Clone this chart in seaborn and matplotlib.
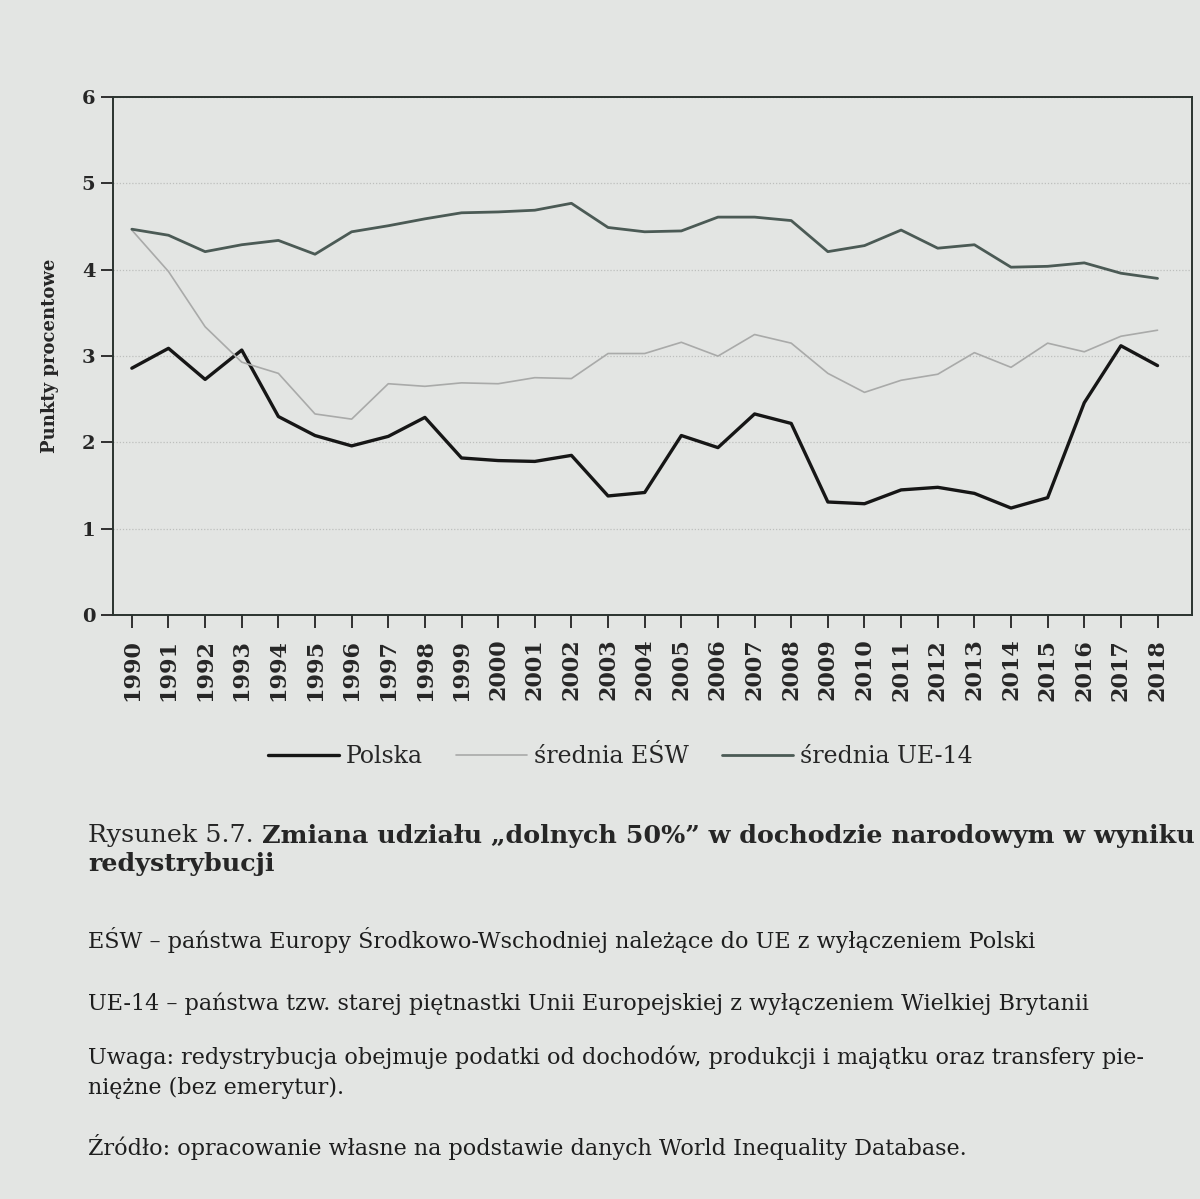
import matplotlib
matplotlib.use("Agg")
import matplotlib.pyplot as plt
import pandas as pd
import seaborn as sns

years = list(range(1990, 2019))

polska = [2.86, 3.09, 2.73, 3.07, 2.30, 2.08, 1.96, 2.07, 2.29, 1.82,
          1.79, 1.78, 1.85, 1.38, 1.42, 2.08, 1.94, 2.33, 2.22, 1.31,
          1.29, 1.45, 1.48, 1.41, 1.24, 1.36, 2.46, 3.12, 2.89]

esw = [4.46, 3.98, 3.34, 2.93, 2.80, 2.33, 2.27, 2.68, 2.65, 2.69,
       2.68, 2.75, 2.74, 3.03, 3.03, 3.16, 3.00, 3.25, 3.15, 2.80,
       2.58, 2.72, 2.79, 3.04, 2.87, 3.15, 3.05, 3.23, 3.30]

ue14 = [4.47, 4.40, 4.21, 4.29, 4.34, 4.18, 4.44, 4.51, 4.59, 4.66,
        4.67, 4.69, 4.77, 4.49, 4.44, 4.45, 4.61, 4.61, 4.57, 4.21,
        4.28, 4.46, 4.25, 4.29, 4.03, 4.04, 4.08, 3.96, 3.90]

series_names = ["Polska", "średnia EŚW", "średnia UE-14"]
y_ticks = [0, 1, 2, 3, 4, 5, 6]

df = pd.DataFrame({
    "rok": years * 3,
    "wartosc": polska + esw + ue14,
    "seria": [series_names[0]] * len(years)
             + [series_names[1]] * len(years)
             + [series_names[2]] * len(years),
})

paper = "#e3e5e3"
colors = {"Polska": "#161616", "średnia EŚW": "#a9aaa9", "średnia UE-14": "#4b5a55"}
widths = {"Polska": 2.4, "średnia EŚW": 1.2, "średnia UE-14": 2.0}

sns.set_style("ticks")
plt.rcParams["font.family"] = ["DejaVu Serif", "DejaVu Sans"]

fig = plt.figure(figsize=(12, 11.99), dpi=100, facecolor=paper)
ax = fig.add_axes([0.094, 0.487, 0.899, 0.432])
ax.set_facecolor(paper)

for name in series_names:
    sns.lineplot(data=df[df["seria"] == name], x="rok", y="wartosc",
                 color=colors[name], linewidth=widths[name], ax=ax,
                 label=name)

ax.set_xlim(1989.48, 2018.93)
ax.set_ylim(0, 6)
ax.set_yticks(y_ticks)
ax.set_yticklabels([str(t) for t in y_ticks], fontsize=14, fontweight="bold")
ax.set_xticks(years)
ax.set_xticklabels([str(y) for y in years], rotation=90, fontsize=16,
                   fontweight="bold")
ax.tick_params(axis="both", direction="out", length=9, width=1.3,
               color="#222222")
ax.tick_params(axis="x", pad=8)
ax.set_xlabel("")
ax.set_ylabel("Punkty procentowe", fontsize=13, fontweight="bold", labelpad=16)
for s in ax.spines.values():
    s.set_visible(True)
    s.set_linewidth(1.4)
    s.set_color("#2a332f")
ax.yaxis.grid(True, linestyle=(0, (1, 1.5)), color="#bdbfbd", linewidth=0.9)
ax.set_axisbelow(True)

ax.get_legend().remove()
handles, labels = ax.get_legend_handles_labels()
fig.legend(handles, labels, loc="center", bbox_to_anchor=(0.517, 0.369),
           ncol=3, frameon=False, fontsize=17, handlelength=3,
           columnspacing=1.4, handletextpad=0.3)

x0 = 88 / 1200
t1 = fig.text(x0, 0.303, "Rysunek 5.7. ", fontsize=18.3, va="center")
fig.canvas.draw()
bb = t1.get_window_extent(fig.canvas.get_renderer())
fig.text(bb.x1 / fig.bbox.width, 0.303,
         "Zmiana udziału „dolnych 50%” w dochodzie narodowym w wyniku",
         fontsize=18.3, fontweight="bold", va="center")
fig.text(x0, 0.279, "redystrybucji", fontsize=18.3, fontweight="bold", va="center")

notes = [
    (0.216, "EŚW – państwa Europy Środkowo-Wschodniej należące do UE z wyłączeniem Polski"),
    (0.163, "UE-14 – państwa tzw. starej piętnastki Unii Europejskiej z wyłączeniem Wielkiej Brytanii"),
    (0.118, "Uwaga: redystrybucja obejmuje podatki od dochodów, produkcji i majątku oraz transfery pie-"),
    (0.093, "niężne (bez emerytur)."),
    (0.043, "Źródło: opracowanie własne na podstawie danych World Inequality Database."),
]
for y, txt in notes:
    fig.text(x0, y, txt, fontsize=16, va="center", color="#1e1e1e")

fig.savefig("out.png", dpi=100, facecolor=paper)
